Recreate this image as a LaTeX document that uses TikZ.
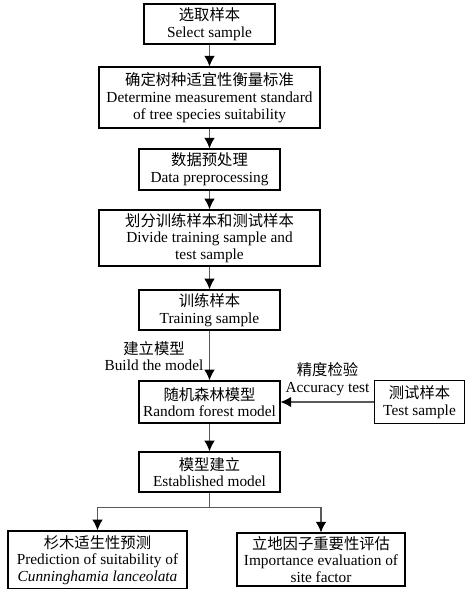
\documentclass[tikz,border=0pt]{standalone}
\usepackage{fontspec}
\setmainfont{Liberation Serif}
\newfontfamily\cjk{Noto Sans CJK SC}
\usepackage{tikz}
\usetikzlibrary{arrows.meta,positioning}

\begin{document}
\begin{tikzpicture}[
    x=0.75pt, y=-0.75pt,
    every node/.style={font=\fontsize{11.5}{12.5}\selectfont},
    stepbox/.style={draw, line width=1.1pt, align=center, inner sep=1pt},
    flow/.style={draw=black!65, line width=0.8pt, -{Latex[length=8pt,width=8pt,black]}},
    note/.style={align=center, inner sep=0pt}
]
% frame of the page (pixel coordinates, 474 x 589)
\useasboundingbox (0,0) rectangle (474,589);

% Main chain of steps
\node[stepbox, minimum width=98pt, minimum height=30pt] (select) at (209.5,24)
  {{\cjk 选取样本}\\Select sample};
\node[stepbox, minimum width=165.5pt, minimum height=45.5pt] (standard) at (209.5,97.5)
  {{\cjk 确定树种适宜性衡量标准}\\Determine measurement standard\\of tree species suitability};
\node[stepbox, minimum width=105.5pt, minimum height=30.5pt] (prep) at (209.5,169.5)
  {{\cjk 数据预处理}\\Data preprocessing};
\node[stepbox, minimum width=165.5pt, minimum height=42pt] (divide) at (209.5,238)
  {{\cjk 划分训练样本和测试样本}\\Divide training sample and\\test sample};
\node[stepbox, minimum width=105.5pt, minimum height=30pt] (train) at (209.5,310)
  {{\cjk 训练样本}\\Training sample};
\node[stepbox, minimum width=105.5pt, minimum height=31.5pt] (forest) at (209.5,402)
  {{\cjk 随机森林模型}\\Random forest model};
\node[stepbox, minimum width=67.5pt, minimum height=32.5pt] (test) at (419.5,402)
  {{\cjk 测试样本}\\Test sample};
\node[stepbox, minimum width=105.5pt, minimum height=30pt] (model) at (209.5,472)
  {{\cjk 模型建立}\\Established model};

% Two results
\node[stepbox, minimum width=134pt, minimum height=43.5pt] (predict) at (97.5,560)
  {{\cjk 杉木适生性预测}\\Prediction of suitability of\\\textit{Cunninghamia lanceolata}};
\node[stepbox, minimum width=126pt, minimum height=39.5pt] (factor) at (321,559.5)
  {{\cjk 立地因子重要性评估}\\Importance evaluation of\\site factor};

% Labels on arrows
\node[note] (build) at (154,356) {{\cjk 建立模型}\\Build the model};
\node[note] (check) at (327.5,379) {{\cjk 精度检验}\\Accuracy test};

% Arrows
\draw[flow] (select) -- (standard);
\draw[flow] (standard) -- (prep);
\draw[flow] (prep) -- (divide);
\draw[flow] (divide) -- (train);
\draw[flow] (train) -- (forest);
\draw[flow] (test) -- (forest);
\draw[flow] (model.south) -- ++(0,15) -| (predict.north);
\draw[flow] (model.south) -- ++(0,15) -| (factor.north);
\draw[flow] (forest) -- (model);
\end{tikzpicture}
\end{document}
